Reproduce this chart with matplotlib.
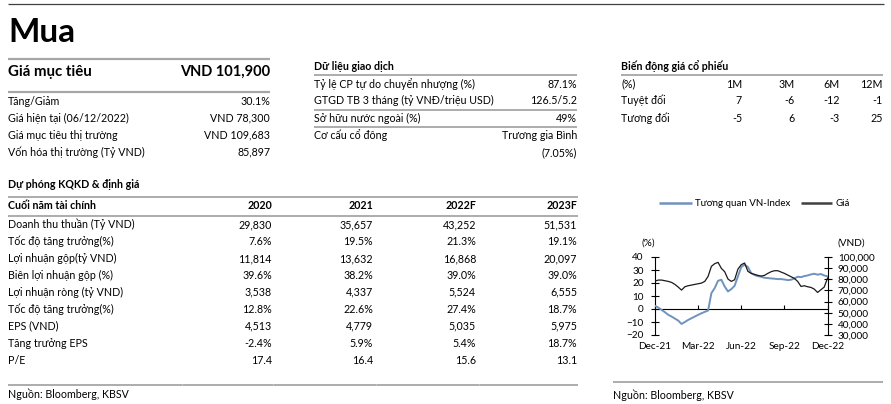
import matplotlib
matplotlib.use('Agg')
import matplotlib.pyplot as plt
import matplotlib.ticker as mticker
import pandas as pd

plt.rcParams['font.family'] = ['Lato', 'DejaVu Sans']

# ---------------- data ----------------
rating = "Mua"
target_label = "Giá mục tiêu"
target_value = "VND 101,900"
summary_labels = ["Tăng/Giảm", "Giá hiện tại (06/12/2022)",
                  "Giá mục tiêu thị trường", "Vốn hóa thị trường (Tỷ VND)"]
summary_values = ["30.1%", "VND 78,300", "VND 109,683", "85,897"]

trade_title = "Dữ liệu giao dịch"
trade_labels = ["Tỷ lệ CP tự do chuyển nhượng (%)",
                "GTGD TB 3 tháng (tỷ VNĐ/triệu USD)",
                "Sở hữu nước ngoài (%)", "Cơ cấu cổ đông"]
trade_values = ["87.1%", "126.5/5.2", "49%", "Trương gia Bình"]
trade_extra = "(7.05%)"

perf_title = "Biến động giá cổ phiếu"
perf_header = "(%)"
perf_periods = ["1M", "3M", "6M", "12M"]
perf_rows = ["Tuyệt đối", "Tương đối"]
perf_abs = [7, -6, -12, -1]
perf_rel = [-5, 6, -3, 25]

fc_title = "Dự phóng KQKD & định giá"
fc_header = "Cuối năm tài chính"
fc_years = ["2020", "2021", "2022F", "2023F"]
fc_rows = ["Doanh thu thuần (Tỷ VND)", "Tốc độ tăng trưởng(%)",
           "Lợi nhuận gộp(tỷ VND)", "Biên lợi nhuận gộp (%)",
           "Lợi nhuận ròng (tỷ VND)", "Tốc độ tăng trưởng(%)",
           "EPS (VND)", "Tăng trưởng EPS", "P/E"]
fc_2020 = ["29,830", "7.6%", "11,814", "39.6%", "3,538", "12.8%", "4,513", "-2.4%", "17.4"]
fc_2021 = ["35,657", "19.5%", "13,632", "38.2%", "4,337", "22.6%", "4,779", "5.9%", "16.4"]
fc_2022 = ["43,252", "21.3%", "16,868", "39.0%", "5,524", "27.4%", "5,035", "5.4%", "15.6"]
fc_2023 = ["51,531", "19.1%", "20,097", "39.0%", "6,555", "18.7%", "5,975", "18.7%", "13.1"]

source = "Nguồn: Bloomberg, KBSV"

legend_labels = ["Tương quan VN-Index", "Giá"]
x_tick_labels = ["Dec-21", "Mar-22", "Jun-22", "Sep-22", "Dec-22"]
x_tick_dates = ["2021-12-06", "2022-03-07", "2022-06-06", "2022-09-05", "2022-12-06"]
# weekly readings, starting 2021-12-06
relative_pct = [2.4, 1.1, -0.7, -2.5, -4.5, -5.8, -7.4, -8.9, -11.5, -10.0,
                -8.4, -7.1, -5.8, -4.5, -3.3, -2.2, -1.2, 12.2, 16.1, 21.7,
                22.5, 17.3, 13.5, 15.3, 17.9, 25.1, 32.3, 34.1, 32.3, 27.6,
                26.1, 25.3, 24.8, 24.0, 23.8, 23.5, 23.3, 23.0, 23.0, 22.7,
                22.2, 22.5, 23.5, 24.8, 24.5, 25.3, 25.8, 26.6, 27.1, 26.4,
                26.9, 25.8, 25.1]
price_vnd = [78400, 79300, 79300, 78700, 78100, 77200, 75400, 73000, 70300, 73300,
             74200, 74800, 75400, 76000, 76600, 78100, 82600, 91600, 94000, 95200,
             89800, 86800, 80200, 78100, 79600, 89200, 93100, 94600, 87100, 85300,
             84400, 83500, 82900, 83500, 85300, 86800, 87700, 87700, 86500, 85300,
             83800, 82300, 80800, 78100, 73600, 74200, 73300, 72700, 71200, 68200,
             70600, 73000, 81100]
dates = pd.date_range("2021-12-06", periods=len(price_vnd), freq="7D")

# ---------------- figure ----------------
W, H = 891, 404
fig = plt.figure(figsize=(W / 100, H / 100), dpi=100)
bg = fig.add_axes([0, 0, 1, 1])
bg.set_xlim(0, W)
bg.set_ylim(H, 0)
bg.axis('off')

TXT = '#000000'
GRID = '#a6a6a6'
FS = 7.7


def hline(x0, x1, y, color=GRID, lw=1.3):
    bg.plot([x0, x1], [y, y], color=color, lw=lw, solid_capstyle='butt')


def txt(x, y, s, ha='left', fs=FS, weight='normal', color=TXT):
    bg.text(x, y, s, ha=ha, va='baseline', fontsize=fs, fontweight=weight, color=color)


# top rule
hline(8, 884, 4, color='#404040', lw=0.9)

# rating block
txt(8, 41.7, rating, fs=24, weight='bold')
hline(8, 270, 59, lw=1.6)
txt(8, 76, target_label, fs=10.8, weight='bold')
txt(270, 76, target_value, ha='right', fs=10.5, weight='bold')
hline(8, 270, 92, lw=1.6)
for i, (lab, val) in enumerate(zip(summary_labels, summary_values)):
    y = 105 + i * 16.9
    txt(8, y, lab)
    txt(270, y, val, ha='right')

# trading data block
txt(314, 70, trade_title, weight='bold')
hline(314, 577, 75)
trade_y = [87.7, 104.3, 121.7, 139]
for lab, val, y in zip(trade_labels, trade_values, trade_y):
    txt(314, y, lab)
    txt(577, y, val, ha='right')
txt(577, 156, trade_extra, ha='right')
hline(314, 577, 110)
hline(314, 577, 127.3)

# performance block
txt(621, 70, perf_title, weight='bold')
hline(621, 883, 75)
perf_x = [742, 795, 840, 883]
txt(621, 87.7, perf_header)
for px, p in zip(perf_x, perf_periods):
    txt(px, 87.7, p, ha='right')
for y, lab, vals in zip([104.3, 121.7], perf_rows, [perf_abs, perf_rel]):
    txt(621, y, lab)
    for px, v in zip(perf_x, vals):
        txt(px, y, str(v), ha='right')

# forecast table
txt(8, 187.7, fc_title, weight='bold')
hline(8, 578, 196.7)
col_x = [272, 373, 476, 577]
txt(8, 209.3, fc_header, weight='bold')
for cx, yr in zip(col_x, fc_years):
    txt(cx, 209.3, yr, ha='right', weight='bold')
hline(8, 578, 215.7)
cols = [fc_2020, fc_2021, fc_2022, fc_2023]
for i, lab in enumerate(fc_rows):
    y = 228.3 + i * 16.9
    txt(8, y, lab)
    for cx, col in zip(col_x, cols):
        txt(cx, y, col[i], ha='right')
hline(8, 578, 385)
for tx in [182, 273, 376, 479]:
    bg.plot([tx, tx], [383.5, 385], color='#c8c8c8', lw=0.6)
txt(8, 397.7, source)

# right source
hline(613, 883, 382.3)
txt(613, 399, source)

# legend
BLUE = '#7092be'
BLACK = '#1a1a1a'
bg.plot([659, 692], [203.3, 203.3], color=BLUE, lw=1.8, solid_capstyle='butt')
txt(695, 206, legend_labels[0], fs=7)
bg.plot([801, 832], [203.3, 203.3], color='#404040', lw=1.8, solid_capstyle='butt')
txt(836, 206, legend_labels[1], fs=7)

# axis unit labels
CFS = 7.2
bg.text(655, 246, "(%)", ha='right', va='baseline', fontsize=CFS)
bg.text(838, 246, "(VND)", ha='left', va='baseline', fontsize=CFS)

# ---------------- chart ----------------
ax = fig.add_axes([655 / W, 1 - 335 / H, 173 / W, 78 / H])
ax.patch.set_alpha(0)
ax.plot(dates, relative_pct, color=BLUE, lw=1.4, zorder=3)
ax.set_ylim(-20, 40)
ax.set_yticks([-20, -10, 0, 10, 20, 30, 40])
xt = pd.to_datetime(x_tick_dates)
ax.set_xlim(xt[0], xt[-1])
ax.set_xticks(xt)
ax.set_xticklabels(x_tick_labels)
for s in ['top', 'right']:
    ax.spines[s].set_visible(False)
ax.spines['bottom'].set_position(('data', 0))
ax.spines['bottom'].set_linewidth(0.8)
ax.spines['left'].set_linewidth(0.8)
ax.tick_params(axis='x', direction='in', length=3, width=0.8, pad=24,
               labelsize=CFS)
ax.tick_params(axis='y', direction='inout', length=6, width=0.8, pad=5,
               labelsize=CFS)

ax2 = ax.twinx()
ax2.plot(dates, price_vnd, color=BLACK, lw=0.9, zorder=2)
ax2.set_ylim(30000, 100000)
ax2.set_yticks(range(30000, 100001, 10000))
ax2.yaxis.set_major_formatter(mticker.StrMethodFormatter('{x:,.0f}'))
for s in ['top', 'left', 'bottom']:
    ax2.spines[s].set_visible(False)
ax2.spines['right'].set_linewidth(0.8)
ax2.tick_params(axis='y', direction='inout', length=6, width=0.8, pad=4,
                labelsize=CFS)

fig.savefig('out.png', dpi=100)
